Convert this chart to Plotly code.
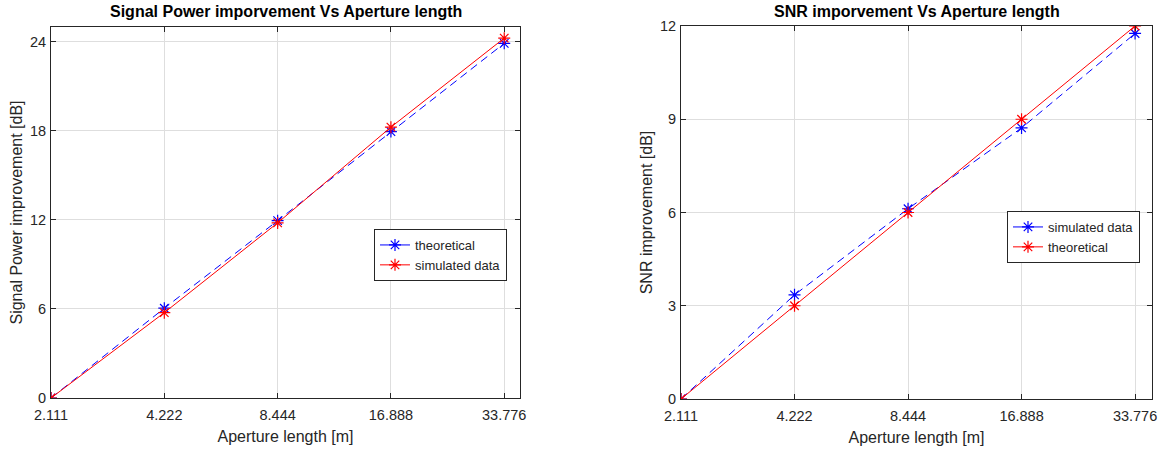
import plotly.graph_objects as go

# Aperture lengths [m] (log-spaced, one octave apart)
aperture = [2.111, 4.222, 8.444, 16.888, 33.776]
aperture_labels = ["2.111", "4.222", "8.444", "16.888", "33.776"]

# Signal power improvement [dB]
power_theoretical = [0.0, 6.05, 11.95, 17.95, 23.9]
power_simulated = [0.0, 5.75, 11.8, 18.25, 24.25]
power_ticks = [0, 6, 12, 18, 24]

# SNR improvement [dB]
snr_simulated = [0.0, 3.35, 6.12, 8.72, 11.76]
snr_theoretical = [0.0, 3.0, 6.0, 9.0, 12.0]
snr_ticks = [0, 3, 6, 9, 12]

W, H = 1162, 449
TXT = "#262626"
GRID = "#dedede"
BLUE = "#0000ff"
RED = "#ff0000"
FONT = "Liberation Sans, Arial, Helvetica, sans-serif"

# plot area in pixels (left, right, top, bottom)
PL, PR, PT, PB = 51, 1152, 26, 399

def px_x(p):
    return (p - PL) / (PR - PL)

def px_y(p):
    return (PB - p) / (PB - PT)

fig = go.Figure()

star = dict(symbol="asterisk-open", size=10, line=dict(width=1.2))
dash = "8px,5px"

def series(x, y, color, dashed, xa, ya):
    fig.add_trace(go.Scatter(
        x=x, y=y, mode="lines+markers", showlegend=False,
        line=dict(color=color, width=1, dash=dash if dashed else "solid"),
        marker=dict(color=color, **star), xaxis=xa, yaxis=ya))

def legend_entry(name, color, legend):
    # legend sample: solid line with star marker
    fig.add_trace(go.Scatter(
        x=[None], y=[None], name=name, mode="lines+markers",
        line=dict(color=color, width=1),
        marker=dict(color=color, **star), legend=legend))

series(aperture, power_theoretical, BLUE, True, "x", "y")
series(aperture, power_simulated, RED, False, "x", "y")
series(aperture, snr_simulated, BLUE, True, "x2", "y2")
series(aperture, snr_theoretical, RED, False, "x2", "y2")

legend_entry("theoretical", BLUE, "legend")
legend_entry("simulated data", RED, "legend")
legend_entry("simulated data", BLUE, "legend2")
legend_entry("theoretical", RED, "legend2")

axis_common = dict(
    showline=True, linecolor=TXT, linewidth=1, mirror="ticks",
    ticks="inside", ticklen=5, tickcolor=TXT, tickwidth=1,
    showgrid=True, gridcolor=GRID, gridwidth=1, zeroline=False,
    automargin=False,
    tickfont=dict(family=FONT, size=14.5, color=TXT),
)
xcommon = dict(axis_common, ticklabelstandoff=4)
ycommon = dict(axis_common, ticklabelstandoff=1)
label_font = dict(family=FONT, size=16, color=TXT)

legend_style = dict(xanchor="left", yanchor="top",
                    bgcolor="white", bordercolor=TXT, borderwidth=1,
                    font=dict(family=FONT, size=13, color=TXT), tracegroupgap=0)

fig.update_layout(
    width=W, height=H,
    margin=dict(l=PL, r=W - PR, t=PT, b=H - PB, autoexpand=False),
    paper_bgcolor="white", plot_bgcolor="white",
    font=dict(family=FONT, color=TXT),
    xaxis=dict(type="log", domain=[px_x(51), px_x(520)], anchor="y",
               range=[0.32449, 1.5705], tickvals=aperture, ticktext=aperture_labels,
               title=dict(text="Aperture length [m]", font=label_font, standoff=8),
               **xcommon),
    yaxis=dict(domain=[px_y(398), px_y(27)], anchor="x", range=[0, 25],
               tickvals=power_ticks,
               title=dict(text="Signal Power improvement [dB]", font=label_font, standoff=3),
               **ycommon),
    xaxis2=dict(type="log", domain=[px_x(681), px_x(1152)], anchor="y2",
                range=[0.32449, 1.5735], tickvals=aperture, ticktext=aperture_labels,
                title=dict(text="Aperture length [m]", font=label_font, standoff=8),
                **xcommon),
    yaxis2=dict(domain=[px_y(399), px_y(26)], anchor="x2", range=[0, 12],
                tickvals=snr_ticks,
                title=dict(text="SNR improvement [dB]", font=label_font, standoff=3),
                **ycommon),
    legend=dict(x=px_x(374), y=px_y(229), **legend_style),
    legend2=dict(x=px_x(1007), y=px_y(211), **legend_style),
    annotations=[
        dict(text="<b>Signal Power imporvement Vs Aperture length</b>",
             x=px_x((51 + 520) / 2), y=px_y(12), xref="paper", yref="paper",
             xanchor="center", yanchor="middle", showarrow=False,
             font=dict(family=FONT, size=16, color="#000000")),
        dict(text="<b>SNR imporvement Vs Aperture length</b>",
             x=px_x((681 + 1152) / 2), y=px_y(12), xref="paper", yref="paper",
             xanchor="center", yanchor="middle", showarrow=False,
             font=dict(family=FONT, size=16, color="#000000")),
    ],
)

fig.write_html("out.html")
